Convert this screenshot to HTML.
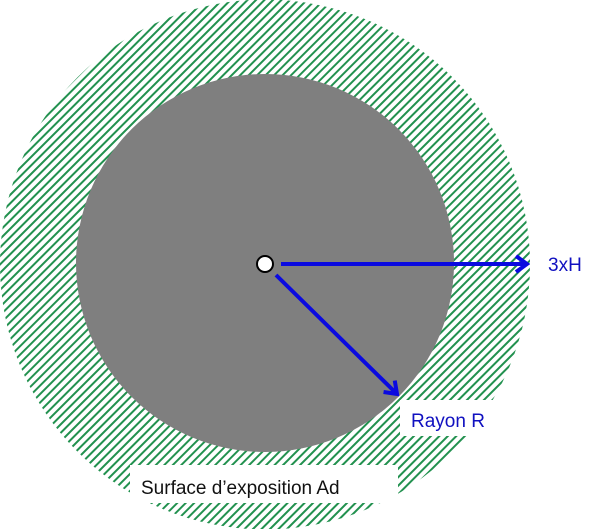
<!DOCTYPE html>
<html><head><meta charset="utf-8"><style>
html,body{margin:0;padding:0;background:#fff;width:604px;height:529px;overflow:hidden}
svg{display:block}
text{font-family:"Liberation Sans",sans-serif}
</style></head><body>
<svg width="604" height="529" viewBox="0 0 604 529">
<defs>
<pattern id="hatch" patternUnits="userSpaceOnUse" width="6" height="6" patternTransform="rotate(45)">
<rect width="6" height="6" fill="#fff"/>
<rect x="0" y="0" width="2" height="6" fill="#22914f"/>
</pattern>
<marker id="ah" markerWidth="16" markerHeight="20" refX="13" refY="10" orient="auto" markerUnits="userSpaceOnUse">
<path d="M2,2 L13,10 L2,18" fill="none" stroke="#0a0ae0" stroke-width="4" stroke-linejoin="miter"/>
</marker>
</defs>
<circle cx="265" cy="264.5" r="265" fill="url(#hatch)"/>
<circle cx="265" cy="263" r="189" fill="#7f7f7f"/>
<line x1="281" y1="264" x2="527" y2="264" stroke="#0a0ae0" stroke-width="4" marker-end="url(#ah)"/>
<line x1="276" y1="275" x2="397" y2="394" stroke="#0a0ae0" stroke-width="4" marker-end="url(#ah)"/>
<circle cx="265" cy="264" r="8" fill="#fff" stroke="#000" stroke-width="2"/>
<text x="548" y="271" font-size="19" fill="#1010c0">3xH</text>
<rect x="400" y="400" width="100" height="36" fill="#fff"/>
<text x="411" y="427" font-size="19" fill="#1010c0">Rayon R</text>
<rect x="130" y="465" width="268" height="38" fill="#fff"/>
<text x="141" y="494" font-size="19" fill="#111">Surface d’exposition Ad</text>
</svg>
</body></html>
